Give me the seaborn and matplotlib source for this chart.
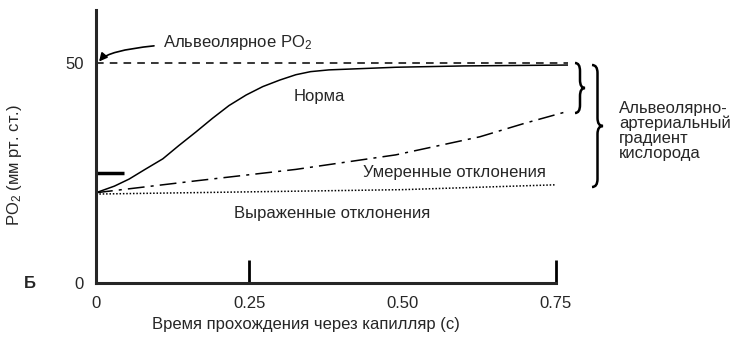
import matplotlib
matplotlib.use("Agg")
import matplotlib.pyplot as plt
from matplotlib.path import Path
from matplotlib.patches import PathPatch
import seaborn as sns

# curve data (time in s, PO2 in mm Hg)
t_alv = [0, 0.77]
po2_alv = [50, 50]

t_norm = [0, 0.03, 0.054, 0.08, 0.109, 0.135, 0.163, 0.19, 0.217, 0.245,
          0.272, 0.3, 0.326, 0.35, 0.38, 0.49, 0.6, 0.77]
po2_norm = [20.5, 22.0, 23.6, 25.8, 28.2, 31.2, 34.3, 37.4, 40.3, 42.7,
            44.6, 46.1, 47.3, 48.0, 48.4, 49.0, 49.3, 49.5]

t_mod = [0, 0.163, 0.326, 0.489, 0.626, 0.7, 0.77]
po2_mod = [20.5, 23.2, 25.8, 29.1, 33.2, 36.3, 39.0]

t_sev = [0, 0.25, 0.5, 0.75]
po2_sev = [20.2, 20.7, 21.2, 22.3]

xticks = [0, 0.25, 0.50, 0.75]
xtick_labels = ["0", "0.25", "0.50", "0.75"]
yticks = [0, 50]

sns.set_style("white")
plt.rcParams["font.family"] = ["Liberation Sans", "DejaVu Sans"]
plt.rcParams["mathtext.fontset"] = "custom"
plt.rcParams["mathtext.rm"] = "Liberation Sans"
plt.rcParams["mathtext.it"] = "Liberation Sans:italic"

W, H = 742, 353
fig = plt.figure(figsize=(W / 100, H / 100), dpi=100)
ax = fig.add_axes([96 / W, 1 - 283 / H, 472 / W, 273 / H])

def px(x, y):
    # pixel position in reference -> figure fraction
    return x / W, 1 - y / H

fs = 12
lw = 1.1
sns.lineplot(x=t_alv, y=po2_alv, ax=ax, color="black", lw=lw)
ax.lines[-1].set_dashes([5, 4])
sns.lineplot(x=t_norm, y=po2_norm, ax=ax, color="black", lw=lw)
sns.lineplot(x=t_mod, y=po2_mod, ax=ax, color="black", lw=lw)
ax.lines[-1].set_dashes([11, 4, 2, 4])
sns.lineplot(x=t_sev, y=po2_sev, ax=ax, color="black", lw=lw)
ax.lines[-1].set_dashes([1, 1.2])

ax.set_xlim(0, 0.77)
ax.set_ylim(0, 62)
sns.despine(ax=ax)
for s in ["left", "bottom"]:
    ax.spines[s].set_linewidth(2.2)
ax.spines["bottom"].set_bounds(0, 0.75)

ax.set_xticks(xticks)
ax.set_xticklabels(xtick_labels, fontsize=fs)
ax.set_yticks(yticks)
ax.set_yticklabels([str(v) for v in yticks], fontsize=fs)
ax.tick_params(axis="both", which="major", length=0, pad=9)
# tall inward marks at 0.25 / 0.75 and a short one at 25
ax.xaxis.remove_overlapping_locs = False
ax.set_xticks([0.25, 0.75], minor=True)
ax.set_yticks([25], minor=True)
ax.tick_params(axis="x", which="minor", bottom=True, direction="in",
               length=16.5, width=2, color="black")
ax.tick_params(axis="y", which="minor", left=True, direction="in",
               length=20, width=2.5, color="black")
ax.set_xlabel("")
ax.set_ylabel("")

ax.annotate("Альвеолярное PO$_2$", xy=(0.005, 50.3), xytext=(0.109, 54.6),
            fontsize=fs, ha="left", va="center",
            arrowprops=dict(arrowstyle="-|>", color="black", lw=1.2,
                            shrinkA=4, shrinkB=0, mutation_scale=12,
                            connectionstyle="angle3,angleA=0,angleB=50"))
ax.text(0.364, 42.3, "Норма", fontsize=fs, ha="center", va="center")
ax.text(0.585, 25.0, "Умеренные отклонения", fontsize=fs, ha="center", va="center")
ax.text(0.385, 15.7, "Выраженные отклонения", fontsize=fs, ha="center", va="center")

def brace(x0, w, ytop, ybot):
    ymid = (ytop + ybot) / 2
    r = min(8, (ybot - ytop) / 6)
    xm = x0 + w / 2
    pts = [(x0, ytop), (xm, ytop), (xm, ytop + r),
           (xm, ymid - r), (xm, ymid), (x0 + w, ymid),
           (xm, ymid), (xm, ymid + r),
           (xm, ybot - r), (xm, ybot), (x0, ybot)]
    codes = [Path.MOVETO, Path.CURVE3, Path.CURVE3,
             Path.LINETO, Path.CURVE3, Path.CURVE3,
             Path.CURVE3, Path.CURVE3,
             Path.LINETO, Path.CURVE3, Path.CURVE3]
    verts = [px(x, y) for x, y in pts]
    fig.add_artist(PathPatch(Path(verts, codes), fill=False, lw=1.8,
                             edgecolor="black", transform=fig.transFigure))

brace(575, 10, 63, 113)
brace(592, 11, 65, 187)

fig.text(*px(619, 131), "Альвеолярно-\nартериальный\nградиент\nкислорода",
         fontsize=fs, ha="left", va="center", linespacing=1.0)
fig.text(*px(15, 165), "PO$_2$ (мм рт. ст.)", fontsize=fs, rotation=90,
         ha="center", va="center")
fig.text(*px(306, 325), "Время прохождения через капилляр (с)", fontsize=fs,
         ha="center", va="center")
fig.text(*px(30, 283), "Б", fontsize=fs, fontweight="bold", ha="center", va="center")

fig.savefig("out.png", dpi=100)
